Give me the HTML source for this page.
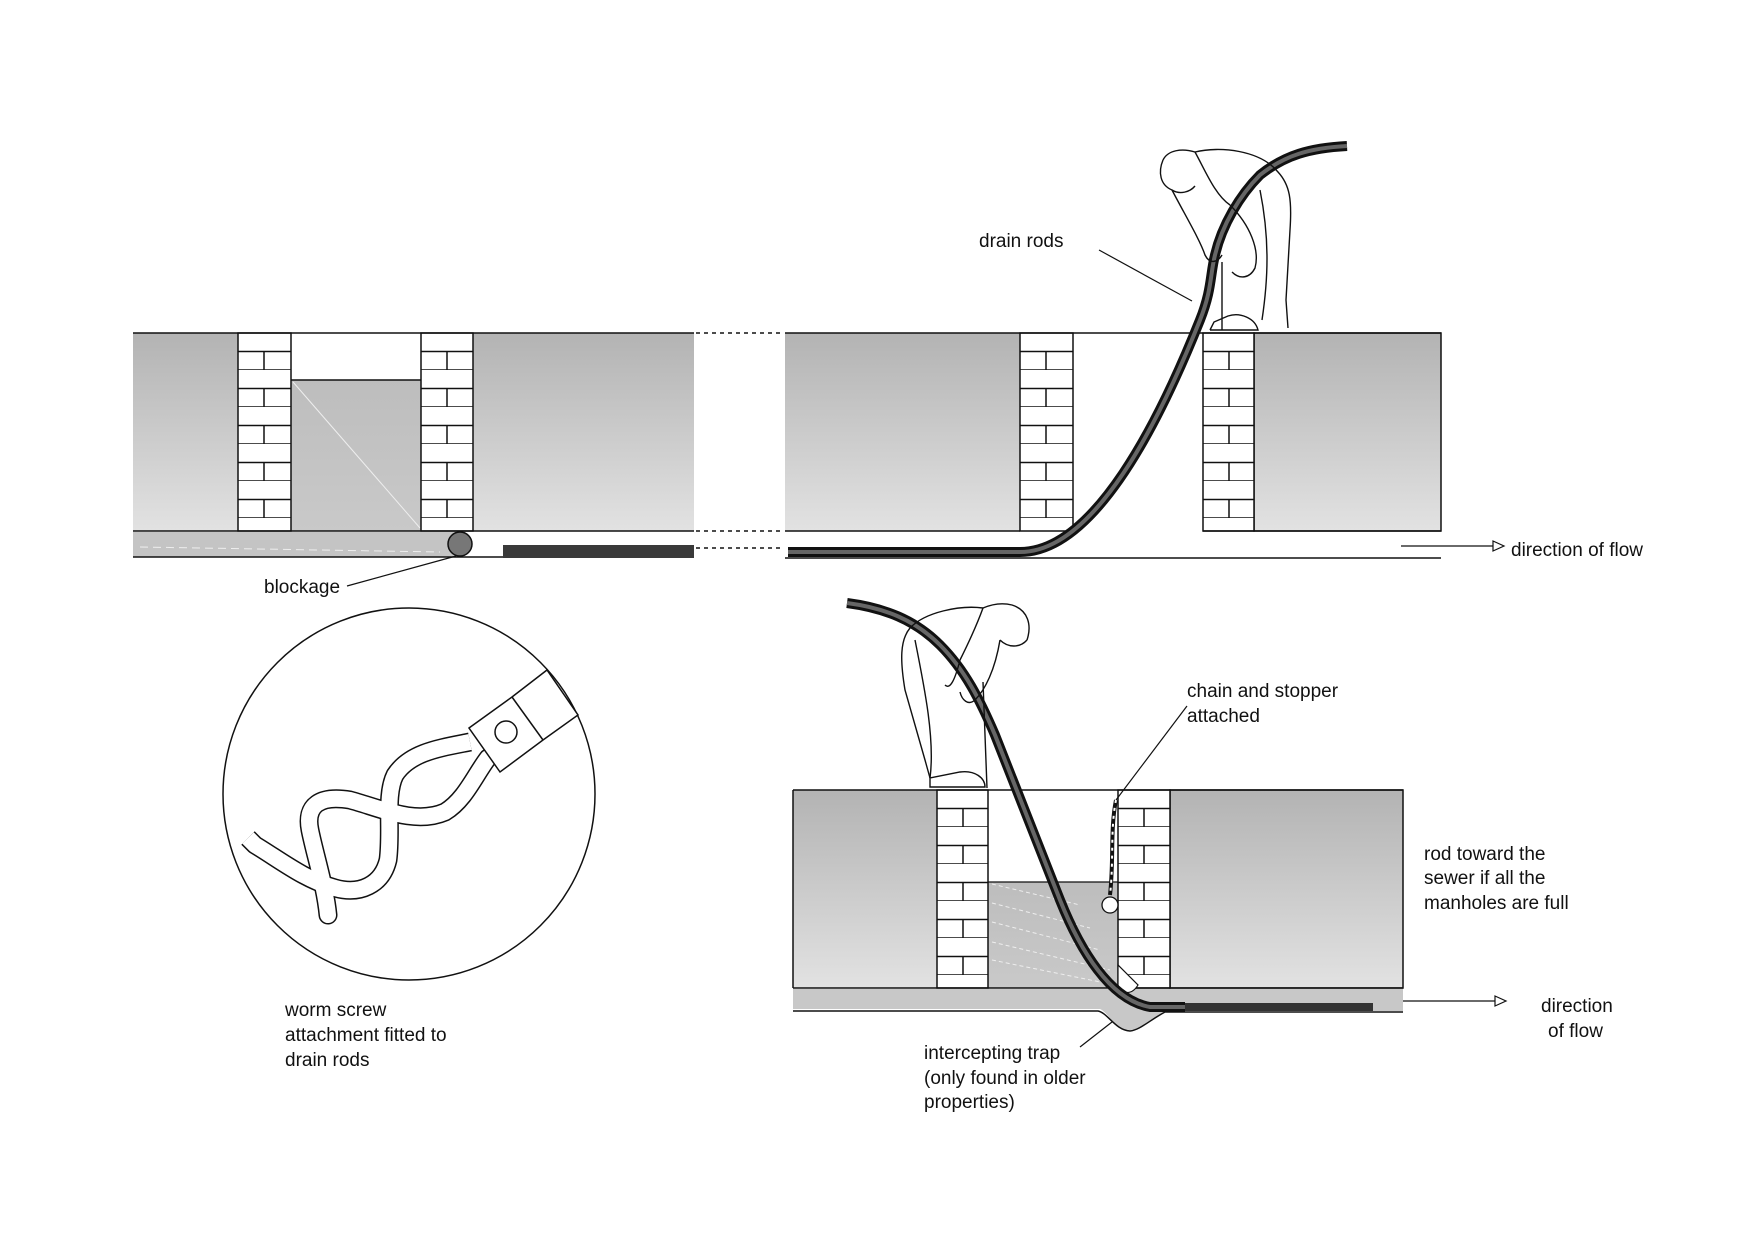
<!DOCTYPE html>
<html><head><meta charset="utf-8"><style>
html,body{margin:0;padding:0;background:#fff;}
svg{display:block;}
text{font-family:"Liberation Sans",sans-serif;font-size:19px;fill:#111;}
</style></head><body>
<svg width="1755" height="1240" viewBox="0 0 1755 1240" xmlns="http://www.w3.org/2000/svg">
<defs>
<linearGradient id="g" x1="0" y1="0" x2="0" y2="1"><stop offset="0" stop-color="#b3b3b3"/><stop offset="1" stop-color="#e2e2e2"/></linearGradient>
<linearGradient id="w" x1="0" y1="0" x2="0" y2="1"><stop offset="0" stop-color="#bdbdbd"/><stop offset="1" stop-color="#c9c9c9"/></linearGradient>
<pattern id="brick" x="0" y="0" width="52" height="37" patternUnits="userSpaceOnUse">
<rect width="52" height="37" fill="#fff"/>
<line x1="0" y1="18.5" x2="52" y2="18.5" stroke="#111" stroke-width="1.5"/>
<line x1="0" y1="37" x2="52" y2="37" stroke="#111" stroke-width="1.5"/>
<line x1="26" y1="18.5" x2="26" y2="37" stroke="#111" stroke-width="1.5"/>
</pattern>
</defs>

<rect x="133" y="333" width="105" height="198" fill="url(#g)"/>
<rect x="473" y="333" width="221" height="198" fill="url(#g)"/>
<rect x="291" y="380" width="130" height="151" fill="url(#w)"/>
<line x1="293" y1="382" x2="420" y2="528" stroke="#eee" stroke-width="1"/>
<line x1="291" y1="380" x2="421" y2="380" stroke="#111" stroke-width="1.5"/>
<g transform="translate(238,333)"><rect width="53" height="198" fill="url(#brick)"/></g>
<g transform="translate(421,333)"><rect width="52" height="198" fill="url(#brick)"/></g>
<rect x="238" y="333" width="53" height="198" fill="none" stroke="#111" stroke-width="1.5"/>
<rect x="421" y="333" width="52" height="198" fill="none" stroke="#111" stroke-width="1.5"/>
<line x1="133" y1="333" x2="694" y2="333" stroke="#111" stroke-width="1.5"/>
<line x1="133" y1="531" x2="694" y2="531" stroke="#111" stroke-width="1.5"/>
<rect x="133" y="532" width="327" height="25" fill="#c4c4c4"/>
<line x1="140" y1="547" x2="440" y2="552" stroke="#eee" stroke-width="1" stroke-dasharray="8 5"/>
<line x1="133" y1="557" x2="694" y2="557" stroke="#111" stroke-width="1.5"/>
<ellipse cx="460" cy="544" rx="12" ry="12" fill="#777" stroke="#111" stroke-width="1.5"/>
<rect x="503" y="545" width="191" height="13" fill="#3a3a3a"/>
<g stroke="#111" stroke-width="1.5" stroke-dasharray="4 4">
<line x1="696" y1="333" x2="784" y2="333"/>
<line x1="696" y1="531" x2="784" y2="531"/>
<line x1="696" y1="548" x2="784" y2="548"/>
</g>

<rect x="785" y="333" width="235" height="198" fill="url(#g)"/>
<rect x="1254" y="333" width="187" height="198" fill="url(#g)" stroke="#111" stroke-width="1.5"/>
<g transform="translate(1020,333)"><rect width="53" height="198" fill="url(#brick)"/></g>
<g transform="translate(1203,333)"><rect width="51" height="198" fill="url(#brick)"/></g>
<rect x="1020" y="333" width="53" height="198" fill="none" stroke="#111" stroke-width="1.5"/>
<rect x="1203" y="333" width="51" height="198" fill="none" stroke="#111" stroke-width="1.5"/>
<line x1="785" y1="333" x2="1441" y2="333" stroke="#111" stroke-width="1.5"/>
<line x1="785" y1="531" x2="1020" y2="531" stroke="#111" stroke-width="1.5"/>
<line x1="1203" y1="531" x2="1441" y2="531" stroke="#111" stroke-width="1.5"/>
<line x1="785" y1="558" x2="1441" y2="558" stroke="#111" stroke-width="1.5"/>
<path d="M788,552 L1020,552 C1095,552 1160,420 1200,320 C1212,290 1210,275 1215,255 C1222,225 1240,195 1260,175 C1285,155 1310,148 1347,146" fill="none" stroke="#111" stroke-width="10"/>
<path d="M788,552 L1020,552 C1095,552 1160,420 1200,320 C1212,290 1210,275 1215,255 C1222,225 1240,195 1260,175 C1285,155 1310,148 1347,146" fill="none" stroke="#666" stroke-width="4"/>
<g fill="none" stroke="#111" stroke-width="1.4">
<path d="M1163,160 C1168,150 1182,148 1195,152 C1220,146 1260,150 1278,172 C1290,185 1292,200 1290,230 L1286,300 L1288,328"/>
<path d="M1163,160 C1158,172 1160,185 1172,190 C1180,195 1190,192 1195,186"/>
<path d="M1195,152 C1205,170 1215,195 1230,205"/>
<path d="M1172,190 C1185,215 1200,240 1205,255 C1210,265 1218,262 1222,255"/>
<path d="M1230,205 C1250,225 1260,250 1255,268 C1250,278 1240,280 1232,272"/>
<path d="M1222,262 L1222,330 M1210,330 L1258,330 C1255,318 1240,312 1228,316 L1214,322 L1210,330"/>
<path d="M1260,190 C1270,240 1268,280 1262,320"/>
</g>
<line x1="1099" y1="250" x2="1192" y2="301" stroke="#111" stroke-width="1.2"/>
<text x="979" y="247">drain rods</text>
<line x1="1401" y1="546" x2="1495" y2="546" stroke="#111" stroke-width="1.3"/>
<path d="M1493,541 L1504,546 L1493,551 Z" fill="#fff" stroke="#111" stroke-width="1.2"/>
<text x="1511" y="556">direction of flow</text>
<line x1="347" y1="586" x2="456" y2="556" stroke="#111" stroke-width="1.2"/>
<text x="264" y="593">blockage</text>

<circle cx="409" cy="794" r="186" fill="#fff" stroke="#111" stroke-width="1.5"/>
<g fill="none">
<path d="M470,742 C440,748 410,752 395,775 C385,795 392,830 388,860 C382,885 360,895 335,888 C305,880 280,860 255,845 L248,838" stroke="#111" stroke-width="19" stroke-linejoin="round"/>
<path d="M488,758 C475,775 465,800 445,812 C415,825 380,808 350,800 C320,795 305,805 310,830 C315,855 325,885 328,915" stroke="#111" stroke-width="19" stroke-linecap="round"/>
<path d="M470,742 C440,748 410,752 395,775 C385,795 392,830 388,860 C382,885 360,895 335,888 C305,880 280,860 255,845 L248,838" stroke="#fff" stroke-width="16" stroke-linejoin="round"/>
<path d="M488,758 C475,775 465,800 445,812 C415,825 380,808 350,800 C320,795 305,805 310,830 C315,855 325,885 328,915" stroke="#fff" stroke-width="16" stroke-linecap="round"/>
</g>
<path d="M469,728 L512,697 L547,670 L578,715 L543,740 L500,772 Z" fill="#fff" stroke="#111" stroke-width="1.5"/>
<line x1="512" y1="697" x2="543" y2="740" stroke="#111" stroke-width="1.5"/>
<circle cx="506" cy="732" r="11" fill="#fff" stroke="#111" stroke-width="1.5"/>
<text x="285" y="1016">worm screw</text>
<text x="285" y="1041">attachment fitted to</text>
<text x="285" y="1066">drain rods</text>

<rect x="793" y="790" width="144" height="198" fill="url(#g)"/>
<rect x="1170" y="790" width="233" height="198" fill="url(#g)" stroke="#111" stroke-width="1.5"/>
<rect x="988" y="882" width="130" height="106" fill="url(#w)"/>
<g stroke="#eee" stroke-width="1" stroke-dasharray="4 3">
<line x1="992" y1="884" x2="1080" y2="905"/><line x1="992" y1="903" x2="1090" y2="928"/><line x1="992" y1="922" x2="1100" y2="950"/><line x1="992" y1="942" x2="1110" y2="970"/><line x1="992" y1="960" x2="1115" y2="985"/>
</g>
<line x1="988" y1="882" x2="1118" y2="882" stroke="#111" stroke-width="1.2"/>
<g transform="translate(937,790)"><rect width="51" height="198" fill="url(#brick)"/></g>
<g transform="translate(1118,790)"><rect width="52" height="198" fill="url(#brick)"/></g>
<rect x="937" y="790" width="51" height="198" fill="none" stroke="#111" stroke-width="1.5"/>
<rect x="1118" y="790" width="52" height="198" fill="none" stroke="#111" stroke-width="1.5"/>
<line x1="793" y1="790" x2="1403" y2="790" stroke="#111" stroke-width="1.5"/>
<line x1="793" y1="790" x2="793" y2="988" stroke="#111" stroke-width="1.5"/>
<line x1="793" y1="988" x2="1403" y2="988" stroke="#111" stroke-width="1.5"/>
<path d="M793,989 L1403,989 L1403,1011 L1165,1011 C1150,1020 1140,1030 1130,1030 C1115,1030 1108,1012 1100,1009 L793,1009 Z" fill="#c8c8c8"/>
<path d="M793,1011 L1098,1011 C1108,1013 1115,1030 1130,1031 C1140,1030 1150,1020 1165,1012 L1403,1012" fill="none" stroke="#111" stroke-width="1.5"/>
<path d="M1118,965 L1118,985 C1122,995 1132,995 1138,985 Z" fill="#fff" stroke="#111" stroke-width="1.2"/>
<rect x="1183" y="1003" width="190" height="8" fill="#333"/>
<path d="M847,603 C885,608 915,620 940,645 C965,670 980,700 995,735 L1060,900 C1080,950 1110,1000 1150,1007 L1185,1007" fill="none" stroke="#111" stroke-width="10"/>
<path d="M847,603 C885,608 915,620 940,645 C965,670 980,700 995,735 L1060,900 C1080,950 1110,1000 1150,1007 L1185,1007" fill="none" stroke="#666" stroke-width="4"/>
<path d="M1116,800 C1110,830 1114,860 1110,895" fill="none" stroke="#111" stroke-width="4"/>
<path d="M1116,800 C1110,830 1114,860 1110,895" fill="none" stroke="#fff" stroke-width="2" stroke-dasharray="3 5"/>
<ellipse cx="1110" cy="905" rx="8" ry="8" fill="#fff" stroke="#111" stroke-width="1.3"/>
<line x1="1116" y1="800" x2="1187" y2="706" stroke="#111" stroke-width="1.2"/>
<text x="1187" y="697">chain and stopper</text>
<text x="1187" y="722">attached</text>
<g fill="none" stroke="#111" stroke-width="1.4">
<path d="M1027,640 C1032,625 1028,610 1012,605 C1000,602 990,605 983,608 C960,605 925,612 910,628 C900,640 900,660 905,690 L925,760 L930,778"/>
<path d="M1027,640 C1020,648 1008,648 1000,640"/>
<path d="M983,608 C975,630 965,650 960,660"/>
<path d="M1000,640 C995,670 985,690 975,700 C968,706 962,700 960,692"/>
<path d="M960,660 C955,680 950,690 945,685"/>
<path d="M983,682 L987,788 M930,778 L930,787 L985,787 C985,778 975,770 960,772 Z"/>
<path d="M915,640 C925,690 935,740 930,778"/>
</g>
<line x1="1080" y1="1047" x2="1112" y2="1022" stroke="#111" stroke-width="1.2"/>
<text x="924" y="1059">intercepting trap</text>
<text x="924" y="1084">(only found in older</text>
<text x="924" y="1108">properties)</text>
<text x="1424" y="860">rod toward the</text>
<text x="1424" y="884">sewer if all the</text>
<text x="1424" y="909">manholes are full</text>
<line x1="1403" y1="1001" x2="1497" y2="1001" stroke="#111" stroke-width="1.3"/>
<path d="M1495,996 L1506,1001 L1495,1006 Z" fill="#fff" stroke="#111" stroke-width="1.2"/>
<text x="1541" y="1012">direction</text>
<text x="1548" y="1037">of flow</text>
</svg>
</body></html>
